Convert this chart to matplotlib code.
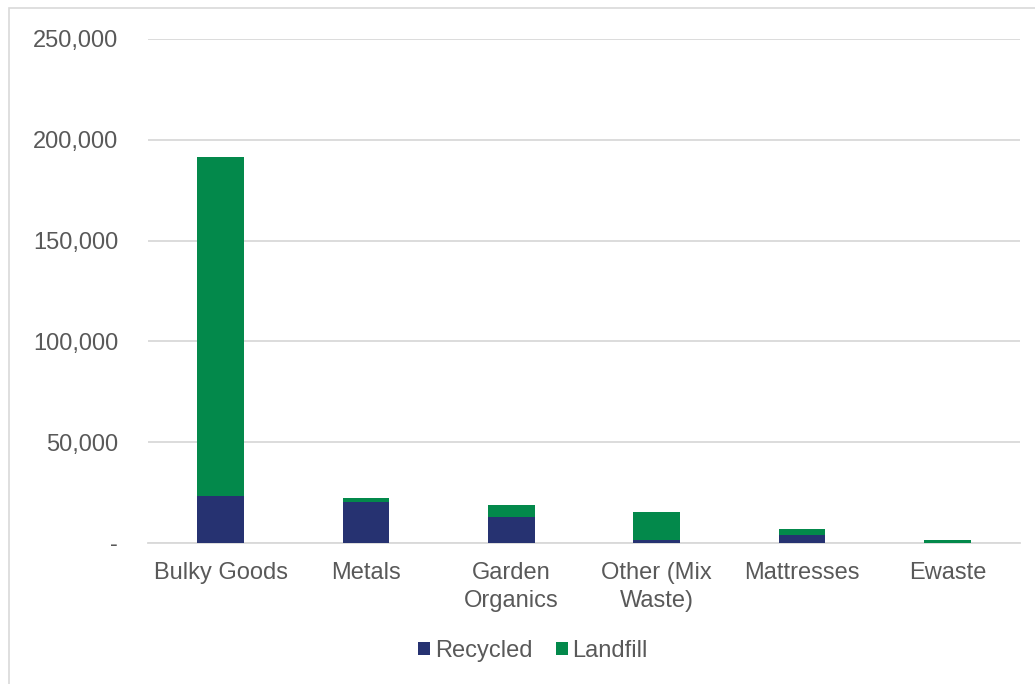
import matplotlib.pyplot as plt
from matplotlib.patches import Rectangle
from matplotlib.ticker import FuncFormatter
import numpy as np

categories = ["Bulky Goods", "Metals", "Garden\nOrganics", "Other (Mix\nWaste)", "Mattresses", "Ewaste"]
recycled = [23200, 20300, 12800, 1500, 4000, 200]
landfill = [168300, 1900, 5900, 13900, 3100, 1300]

navy = "#263271"
green = "#03894B"
grey_text = "#595959"

plt.rcParams["font.family"] = ["Liberation Sans", "DejaVu Sans"]

fig = plt.figure(figsize=(10.35, 6.84), dpi=100)
# thin frame around the chart area
fig.patches.append(Rectangle((9 / 1035, -0.1), 1.2, 1 - 8 / 684 + 0.1, transform=fig.transFigure,
                             fill=False, edgecolor="#D9D9D9", linewidth=1.2))

ax = fig.add_axes([148 / 1035, 1 - 543 / 684, 872 / 1035, 504 / 684])
x = np.arange(len(categories))
ax.bar(x, recycled, width=0.32, color=navy, label="Recycled", zorder=3)
ax.bar(x, landfill, width=0.32, bottom=recycled, color=green, label="Landfill", zorder=3)

ax.set_xlim(-0.5, len(categories) - 0.5)
ax.set_ylim(0, 250000)
ax.set_yticks(np.arange(0, 250001, 50000))
ax.yaxis.set_major_formatter(FuncFormatter(lambda v, p: "-" if v == 0 else f"{int(v):,}"))
ax.set_xticks(x)
ax.set_xticklabels(categories, linespacing=1.35)

ax.grid(axis="y", color="#D9D9D9", linewidth=1.3, zorder=0)
for s in ["top", "right", "left"]:
    ax.spines[s].set_visible(False)
ax.spines["bottom"].set_color("#D9D9D9")
ax.spines["bottom"].set_linewidth(1.3)
ax.tick_params(axis="both", length=0, labelsize=17, labelcolor=grey_text)
ax.tick_params(axis="y", pad=21.5)
ax.tick_params(axis="x", pad=14)

fig.legend(loc="center", bbox_to_anchor=(533 / 1035, 1 - 651 / 684), ncol=2, frameon=False,
           fontsize=17, labelcolor=grey_text, handlelength=0.5, handleheight=0.5,
           handletextpad=0.2, columnspacing=1.0)

fig.savefig("out.png", dpi=100, facecolor="white")
